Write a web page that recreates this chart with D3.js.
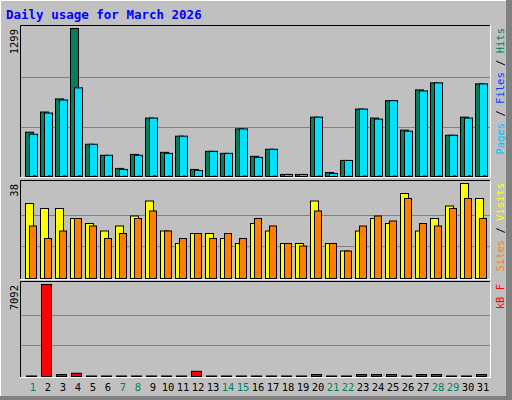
<!DOCTYPE html>
<html><head><meta charset="utf-8">
<script src="https://cdn.jsdelivr.net/npm/d3@7"></script>
<style>body{margin:0;background:#fff}svg{display:block}text{font-family:"DejaVu Sans Mono",monospace}</style>
</head><body><svg id="c" width="512" height="400"></svg>
<script>
const days = d3.range(1, 32);
const weekendDays = [1,7,8,14,15,21,22,28,29];
const hits  = [389,566,681,1299,283,186,71,194,513,212,354,62,221,203,418,177,239,18,18,521,35,141,592,513,666,407,760,822,362,521,813];
const files = [371,557,672,778,283,186,62,186,513,203,354,53,221,203,418,168,239,18,18,521,27,141,592,504,666,398,751,822,362,513,813];
const pages = [6,5,5,6,3,4,2,3,6,3,4,1,3,3,4,3,3,1,1,4,1,2,4,4,4,4,4,4,6,6,6];
const visits = [30,28,28,24,22,19,21,25,31,19,14,18,18,16,14,22,19,14,14,31,14,11,19,24,22,34,19,24,29,38,32];
const sites  = [21,16,19,24,21,16,18,24,27,19,16,18,16,18,16,24,21,14,13,27,14,11,21,25,23,32,22,21,28,32,24];
const kbytes = [40,7092,150,250,40,40,40,40,40,40,40,400,40,40,40,40,40,40,40,150,40,40,150,150,150,40,150,150,40,40,150];
const maxLabels = ["1299","38","7092"];

const svg = d3.select("#c");
svg.append("rect").attr("width",512).attr("height",400).attr("fill","#c0c0c0");
svg.append("rect").attr("x",506).attr("width",6).attr("height",400).attr("fill","#808080");
svg.append("rect").attr("y",396).attr("width",512).attr("height",4).attr("fill","#808080");
svg.append("line").attr("x1",0).attr("y1",0.5).attr("x2",506).attr("y2",0.5).attr("stroke","#fff");
svg.append("line").attr("x1",0.5).attr("y1",0).attr("x2",0.5).attr("y2",396).attr("stroke","#fff");
svg.append("text").attr("x",6).attr("y",19).attr("fill","#0000ff").attr("font-weight","bold")
  .attr("font-size","12.5px").text("Daily usage for March 2026");

const x = d3.scaleBand().domain(days).range([25,490]).paddingInner(0).paddingOuter(0);
const step = 15;
const gx = d => 25 + (d-1)*step;

function panel(top, bottom, max, label, series, rlabel){
  const y = d3.scaleLinear().domain([0,max]).range([bottom-1, bottom-1-(bottom-top-4)]);
  const g = svg.append("g");
  g.append("rect").attr("x",20).attr("y",top).attr("width",470).attr("height",bottom-top).attr("fill","#c0c0c0");
  [1/3,2/3].forEach(f=>{
    const yy = Math.round(y(max*f))+0.5;
    g.append("line").attr("x1",21).attr("x2",490).attr("y1",yy).attr("y2",yy).attr("stroke","#808080");
  });
  series.forEach(s=>{
    g.selectAll(null).data(s.values).join("rect")
      .attr("x",(v,i)=>gx(i+1)+s.off+0.5).attr("width",s.w)
      .attr("y",v=>y(v)+0.5).attr("height",v=>Math.max(0,y(0)-y(v)))
      .attr("fill",s.color).attr("stroke","#000");
  });
  g.append("path").attr("d",`M20.5,${bottom}V${top+0.5}H490`).attr("fill","none").attr("stroke","#000");
  g.append("path").attr("d",`M490.5,${top}V${bottom+0.5}H20`).attr("fill","none").attr("stroke","#fff");
  g.append("text").attr("transform",`translate(18,${top+4}) rotate(-90)`).attr("text-anchor","end")
    .attr("font-size","10.5px").attr("fill","#000").text(label);
  const t = g.append("text").attr("transform",`translate(504,${top+3}) rotate(-90)`).attr("text-anchor","end")
    .attr("font-size","10.5px");
  rlabel.forEach((p,i)=>{
    if(i>0) t.append("tspan").attr("fill","#000").text(" / ");
    t.append("tspan").attr("fill",p[1]).text(p[0]);
  });
  return y;
}
panel(25,177,1299,maxLabels[0],[
  {values:hits,color:"#00805c",off:0,w:8},
  {values:files,color:"#00e0ff",off:4,w:8},
  {values:pages,color:"#0040ff",off:8,w:2}
],[["Pages","#00c0ff"],["Files","#0040ff"],["Hits","#00805c"]]);
panel(180,279,38,maxLabels[1],[
  {values:visits,color:"#ffff00",off:0,w:8},
  {values:sites,color:"#ff8000",off:4,w:7}
],[["Sites","#ff8000"],["Visits","#ffff00"]]);
panel(281,377,7092,maxLabels[2],[
  {values:kbytes,color:"#ff0000",off:1,w:10}
],[["kB F","#ff0000"]]);

svg.selectAll(null).data(days).join("text")
  .attr("x",d=>gx(d)+8).attr("y",391).attr("text-anchor","middle").attr("font-size","10.5px")
  .attr("fill",d=>weekendDays.includes(d)?"#00805c":"#000").text(d=>d);
</script></body></html>
